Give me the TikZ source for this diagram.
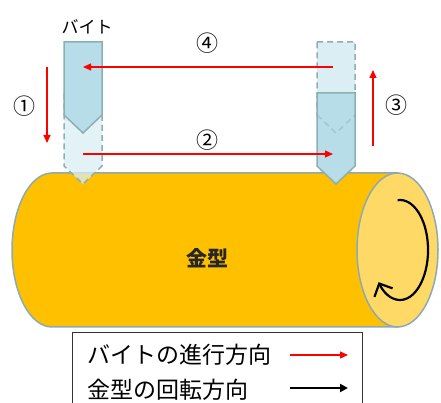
\documentclass[tikz,border=0pt]{standalone}
\usepackage{fontspec}
\setmainfont{Noto Sans CJK JP}
\usetikzlibrary{arrows.meta,positioning}

\definecolor{moldbody}{HTML}{FFC000}
\definecolor{moldface}{HTML}{FFD966}
\definecolor{moldedge}{RGB}{140,170,180}
\definecolor{toolfill}{HTML}{B7DEE8}
\definecolor{ghostfill}{HTML}{DAEEF3}
\definecolor{tooledge}{RGB}{140,175,178}

\tikzset{
  bite/.pic={\path[pic actions] (-19,0) -- (19,0) -- (19,-73) -- (0,-91) -- (-19,-73) -- cycle;}
}

\begin{document}
\begin{tikzpicture}[x=1pt,y=1pt,
      mold/.style={draw=moldedge, line width=1.5pt},
      toolsolid/.style={fill=toolfill, draw=tooledge, line width=1.5pt},
      toolghost/.style={fill=ghostfill, fill opacity=.75, draw=tooledge, line width=1.5pt, dash pattern=on 6pt off 4pt},
      pfeil/.style={draw=red, line width=1.1pt, -{Triangle[length=8pt,width=7pt]}},
      dreh/.style={draw=black, line width=2pt, -{Triangle[length=8pt,width=8pt]}},
      num/.style={font=\fontsize{22}{24}\selectfont, inner sep=0pt},
      legend/.style={font=\fontsize{23}{26}\selectfont, inner sep=0pt, anchor=west}]

\useasboundingbox (0,0) rectangle (441,403);

% mold
\path[mold, fill=moldbody] (52,230) arc[start angle=90, end angle=270, x radius=40, y radius=77]
  -- (397.5,76) -- (397.5,230) -- cycle;
\path[mold, fill=moldface] (397.5,153) ellipse[x radius=40.5, y radius=77];
\node[font=\fontsize{21}{24}\selectfont\bfseries, text=black!85, inner sep=0pt] (kanagata) at (207,145) {金型};
\draw[line width=2.2pt, -{Straight Barb[length=10pt,width=20pt,line width=2.2pt]}]
  (397.6,202.8) arc[start angle=95, end angle=-140, x radius=28, y radius=50];

% tools
\pic[toolghost] at (83,310) {bite};
\pic[toolsolid] at (83,361) {bite};
\pic[toolghost, fill opacity=1] at (336,361) {bite};
\pic[toolsolid] at (336,310) {bite};
\draw[tooledge, line width=1.5pt, dash pattern=on 6pt off 4pt, draw opacity=.5]
  (317,288) -- (336,270) -- (355,288);
\node[font=\fontsize{17}{20}\selectfont, inner sep=0pt] (bite) at (87,376) {バイト};

% tool path
\coordinate (lt) at (83,336);
\coordinate (rt) at (333,336);
\coordinate (lb) at (83,249);
\coordinate (rb) at (333,249);
\coordinate (a1s) at (47,336);
\coordinate (a1e) at (47,260);
\coordinate (a3s) at (373,257);
\coordinate (a3e) at (373,333);
\draw[pfeil] (a1s) -- (a1e);
\draw[pfeil] (lb) -- (rb);
\draw[pfeil] (a3s) -- (a3e);
\draw[pfeil] (rt) -- (lt);
\node[num] (n1) at (24,297) {①};
\node[num] (n2) at (207,263) {②};
\node[num] (n3) at (396,298) {③};
\node[num] (n4) at (207,360) {④};

% legend
\draw[black!80, line width=1pt] (72,70) rectangle (362,-10);
\node[legend] (l1) at (87,48) {バイトの進行方向};
\node[legend] (l2) at (87,13) {金型の回転方向};
\coordinate (l1s) at (290,48);
\coordinate (l1e) at (348,48);
\coordinate (l2s) at (290,15);
\coordinate (l2e) at (348,15);
\draw[pfeil] (l1s) -- (l1e);
\draw[dreh] (l2s) -- (l2e);

\end{tikzpicture}
\end{document}
